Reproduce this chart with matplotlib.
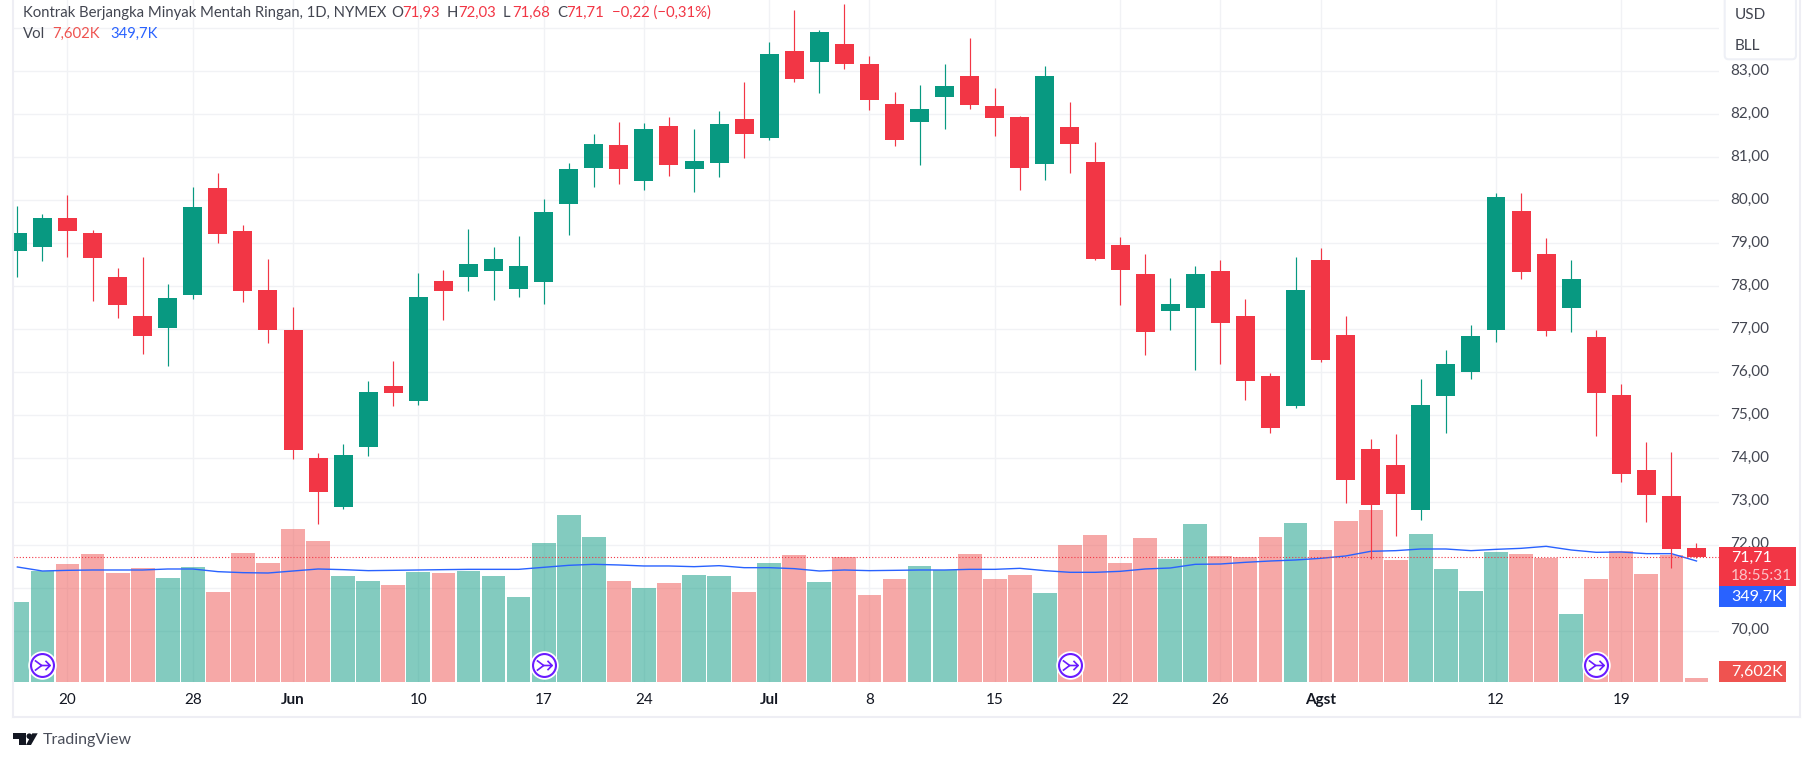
import matplotlib
matplotlib.use("Agg")
import matplotlib.pyplot as plt
from matplotlib.lines import Line2D
from matplotlib.patches import Circle, FancyBboxPatch, Polygon, Rectangle
from matplotlib.path import Path
from matplotlib.transforms import Affine2D, blended_transform_factory

# price data, one value per session (16 May - 22 Aug)
opens = [78.82, 78.92, 79.59, 79.24, 78.22, 77.31, 77.03, 77.80, 80.29, 79.29, 77.92, 76.99, 74.01, 72.87, 74.27, 75.69, 75.34,
         78.13, 78.22, 78.36, 77.94, 78.10, 79.91, 80.75, 81.29, 80.45, 81.73, 80.73, 80.87, 81.89, 81.45, 83.47, 83.21, 83.63,
         83.17, 82.24, 81.82, 82.40, 82.89, 82.19, 81.94, 80.84, 81.70, 80.89, 78.96, 78.29, 77.43, 77.50, 78.36, 77.31, 75.92,
         75.22, 78.61, 76.87, 74.22, 73.85, 72.80, 75.45, 76.01, 76.99, 79.75, 78.75, 77.50, 76.82, 75.48, 73.73, 73.13, 71.93]
closes = [79.24, 79.59, 79.29, 78.66, 77.57, 76.85, 77.73, 79.85, 79.22, 77.89, 76.99, 74.20, 73.22, 74.08, 75.55, 75.52, 77.75,
          77.89, 78.52, 78.64, 78.47, 79.73, 80.73, 81.31, 80.73, 81.66, 80.82, 80.91, 81.77, 81.54, 83.40, 82.82, 83.91, 83.17,
          82.33, 81.40, 82.12, 82.66, 82.22, 81.91, 80.75, 82.89, 81.31, 78.64, 78.38, 76.94, 77.59, 78.29, 77.15, 75.80, 74.71,
          77.92, 76.29, 73.50, 72.92, 73.18, 75.24, 76.20, 76.85, 80.08, 78.33, 76.96, 78.17, 75.52, 73.64, 73.15, 71.90, 71.71]
highs = [79.87, 79.68, 80.12, 79.31, 78.43, 78.68, 78.06, 80.31, 80.64, 79.43, 78.64, 77.52, 74.13, 74.34, 75.80, 76.27, 78.31,
         78.38, 79.33, 78.92, 79.17, 80.03, 80.87, 81.54, 81.82, 81.80, 81.94, 81.66, 82.08, 82.75, 83.68, 84.42, 83.96, 84.56,
         83.35, 82.52, 82.68, 83.17, 83.77, 82.61, 81.96, 83.12, 82.29, 81.36, 79.15, 78.75, 78.20, 78.47, 78.61, 77.71, 75.99,
         78.68, 78.89, 77.31, 74.45, 74.57, 75.85, 76.52, 77.10, 80.17, 80.17, 79.12, 78.61, 76.99, 75.73, 74.38, 74.15, 72.03]
lows = [78.22, 78.59, 78.68, 77.66, 77.27, 76.43, 76.15, 77.71, 79.01, 77.64, 76.68, 73.99, 72.48, 72.83, 74.06, 75.22, 75.24,
        77.22, 77.89, 77.68, 77.75, 77.59, 79.19, 80.31, 80.38, 80.24, 80.57, 80.19, 80.54, 80.98, 81.40, 82.75, 82.49, 83.05,
        82.10, 81.26, 80.82, 81.66, 82.12, 81.49, 80.24, 80.47, 80.64, 78.61, 77.57, 76.41, 76.99, 76.06, 76.20, 75.36, 74.60,
        75.17, 76.24, 72.97, 71.67, 72.20, 72.57, 74.59, 75.85, 76.71, 78.17, 76.85, 76.94, 74.52, 73.45, 72.53, 71.46, 71.68]

# volume in thousands, last bar is drawn a bit taller than 7,602K like the chart does
volumes = [231, 321, 341, 370, 315, 329, 301, 332, 260, 373, 344, 442, 408, 306, 292, 280, 318, 315, 321, 306, 246, 402, 483, 419,
           292, 272, 286, 309, 306, 260, 344, 367, 289, 361, 251, 298, 335, 324, 370, 298, 309, 257, 396, 425, 344, 416, 355, 457,
           364, 361, 419, 460, 382, 465, 497, 353, 428, 327, 263, 376, 370, 358, 197, 298, 379, 312, 367, 11]
volume_ma = [332.4, 320.8, 322.7, 323.7, 323.7, 323.7, 326.6, 326.6, 318.9, 316.0, 315.0, 320.8, 326.6, 324.7, 321.8, 322.7, 323.7,
             324.7, 325.6, 325.6, 325.6, 331.4, 337.2, 340.1, 338.2, 335.3, 335.3, 333.3, 336.2, 330.4, 330.4, 327.6, 320.8, 323.7,
             321.8, 322.7, 323.7, 323.7, 325.6, 325.6, 328.5, 321.8, 317.0, 317.0, 319.8, 326.6, 329.5, 340.1, 341.0, 345.9, 349.7,
             352.6, 357.4, 364.2, 377.7, 379.6, 384.4, 384.4, 379.6, 383.4, 386.3, 392.1, 381.5, 374.8, 375.7, 370.9, 370.9, 349.7]

tick_bars = [2, 7, 11, 16, 21, 25, 30, 34, 39, 44, 48, 52, 59, 64]
tick_labels = ["20", "28", "Jun", "10", "17", "24", "Jul", "8", "15", "22", "26", "Agst", "12", "19"]
month_labels = ["Jun", "Jul", "Agst"]
price_ticks = [70, 72, 73, 74, 75, 76, 77, 78, 79, 80, 81, 82, 83, 84]
grid_prices = [70, 71, 72, 73, 74, 75, 76, 77, 78, 79, 80, 81, 82, 83, 84]
roll_bars = [1, 21, 42, 63]
last_price = 71.71

GREEN = "#089981"
RED = "#F23645"
VOL_GREEN = "#089981"
VOL_RED = "#EF5350"
BLUE = "#2962FF"
GRID = "#F1F2F5"
TEXT = "#434651"
FONT = "Lato"
W, H = 1814, 761

plt.rcParams["font.family"] = [FONT, "DejaVu Sans"]

fig = plt.figure(figsize=(W / 100, H / 100), dpi=100, facecolor="white")
# overlays are placed in image pixels, y going down
pix = Affine2D().scale(1, -1).translate(0, H)

left, right, bottom = 12.6, 1718.8, 682
ax = fig.add_axes([left / W, 1 - bottom / H, (right - left) / W, bottom / H])
ax.set_xlim(-0.19, 67.89)
ax.set_ylim(68.806, 84.655)
for s in ax.spines.values():
    s.set_visible(False)

ax.set_axisbelow(True)
ax.set_yticks(grid_prices)
ax.set_yticklabels([f"{p},00" if p in price_ticks else "" for p in grid_prices])
ax.set_xticks(tick_bars)
ax.set_xticklabels(tick_labels)
ax.yaxis.tick_right()
ax.tick_params(axis="y", length=0, pad=8, labelsize=11, labelcolor=TEXT)
ax.tick_params(axis="x", length=0, pad=8, labelsize=11, labelcolor="#131722")
for lab in ax.get_xticklabels():
    if lab.get_text() in month_labels:
        lab.set_fontweight("bold")
# price labels sit a little above their grid lines
for lab in ax.get_yticklabels():
    lab.set_transform(lab.get_transform() + Affine2D().translate(0, 2))
ax.grid(True, color=GRID, linewidth=1.0)

bars = range(len(closes))
up = [c >= o for o, c in zip(opens, closes)]

# volume pane shares the x axis and sits on the chart floor
vol_top = 1971
vol_trans = blended_transform_factory(ax.transData, Affine2D().scale(1, 1 / vol_top) + ax.transAxes)
ax.bar(bars, volumes, width=0.95, color=[VOL_GREEN if u else VOL_RED for u in up], alpha=0.5,
       transform=vol_trans, zorder=2, linewidth=0)
ax.plot(bars, volume_ma, color=BLUE, linewidth=1.0, transform=vol_trans, zorder=3)

# candles
colors = [GREEN if u else RED for u in up]
ax.vlines(bars, lows, highs, colors=colors, linewidth=0.85, zorder=4)
ax.bar(bars, [abs(c - o) for o, c in zip(opens, closes)], bottom=[min(o, c) for o, c in zip(opens, closes)],
       width=0.757, color=colors, linewidth=0, zorder=5)

ax.axhline(last_price, color=RED, linewidth=0.8, linestyle=(0, (1, 1.8)), zorder=6)

# roll-over markers
arrow = Path([(-0.9, 0.6), (-0.1, 0), (-0.9, -0.6), (-0.1, 0), (0.9, 0), (0.35, 0.55), (0.9, 0), (0.35, -0.55)],
             [Path.MOVETO, Path.LINETO, Path.LINETO, Path.MOVETO, Path.LINETO, Path.MOVETO, Path.LINETO, Path.LINETO])
roll_y = [48] * len(roll_bars)
ax.plot(roll_bars, roll_y, "o", ms=19.5, mfc="white", mec="white", transform=vol_trans, zorder=7)
ax.plot(roll_bars, roll_y, "o", ms=16.5, mfc="white", mec="#6A1BFF", mew=1.5, transform=vol_trans, zorder=8)
ax.plot(roll_bars, roll_y, linestyle="none", marker=arrow, ms=11, mfc="none", mec="#6A1BFF", mew=1.2,
        transform=vol_trans, zorder=9)


def label(x, y, s, color=TEXT, size=11, **kw):
    fig.text(x, y, s, transform=pix, color=color, fontsize=size, va="center", **kw)


# header
label(23, 12.7, "Kontrak Berjangka Minyak Mentah Ringan, 1D, NYMEX", size=10.7)
for x, s, c in [(391, "O", TEXT), (402, "71,93", RED), (447, "H", TEXT), (458, "72,03", RED), (503, "L", TEXT),
                (512, "71,68", RED), (557, "C", TEXT), (566, "71,71", RED), (611.5, "\u22120,22 (\u22120,31%)", RED)]:
    label(x, 12.7, s, c, size=10.7)
label(23, 33.7, "Vol", size=10.7)
label(52.4, 33.7, "7,602K", VOL_RED, size=10.7)
label(110, 33.7, "349,7K", BLUE, size=10.7)

# currency / unit box, top right
fig.add_artist(FancyBboxPatch((1724.7, -8), 71.3, 67.3, boxstyle="round,pad=0,rounding_size=4", transform=pix,
                              facecolor="white", edgecolor="#EEF0F6", linewidth=1.5, zorder=4))
label(1735, 15, "USD", zorder=5)
label(1735, 46.5, "BLL", zorder=5)

# price scale tags
fig.add_artist(Rectangle((1719, 547), 77, 38.7, transform=pix, facecolor=RED, edgecolor="none", zorder=4))
fig.add_artist(Rectangle((1719, 585.7), 67, 21, transform=pix, facecolor=BLUE, edgecolor="none", zorder=4))
fig.add_artist(Rectangle((1719, 661), 67, 21, transform=pix, facecolor=VOL_RED, edgecolor="none", zorder=4))
label(1731, 558, "71,71", "white", size=11.5, zorder=5)
label(1731, 575.5, "18:55:31", "#FBC3C8", zorder=5)
label(1731, 597, "349,7K", "white", size=11.5, zorder=5)
label(1731, 671.5, "7,602K", "white", size=11.5, zorder=5)

# chart frame
for xs, ys in [([12.6, 12.6], [0, 716.7]), ([12.6, 1800], [716.7, 716.7]), ([1800, 1800], [0, 716.7])]:
    fig.add_artist(Line2D(xs, ys, transform=pix, color="#EEEEF4", linewidth=1.5, zorder=3))

# TradingView logo
for pts in [[(13.3, 733.3), (26, 733.3), (26, 745), (19.3, 745), (19.3, 739), (13.3, 739)],
            [(32.3, 733.3), (37.7, 733.3), (31, 745), (26, 745)]]:
    fig.add_artist(Polygon(pts, closed=True, transform=pix, facecolor="#131722", edgecolor="none", zorder=3))
fig.add_artist(Circle((29.3, 736.2), 2.8, transform=pix, facecolor="#131722", edgecolor="none", zorder=3))
label(42.7, 740, "TradingView", "#4A4E5A", size=11.5)

fig.savefig("out.png", dpi=100)
